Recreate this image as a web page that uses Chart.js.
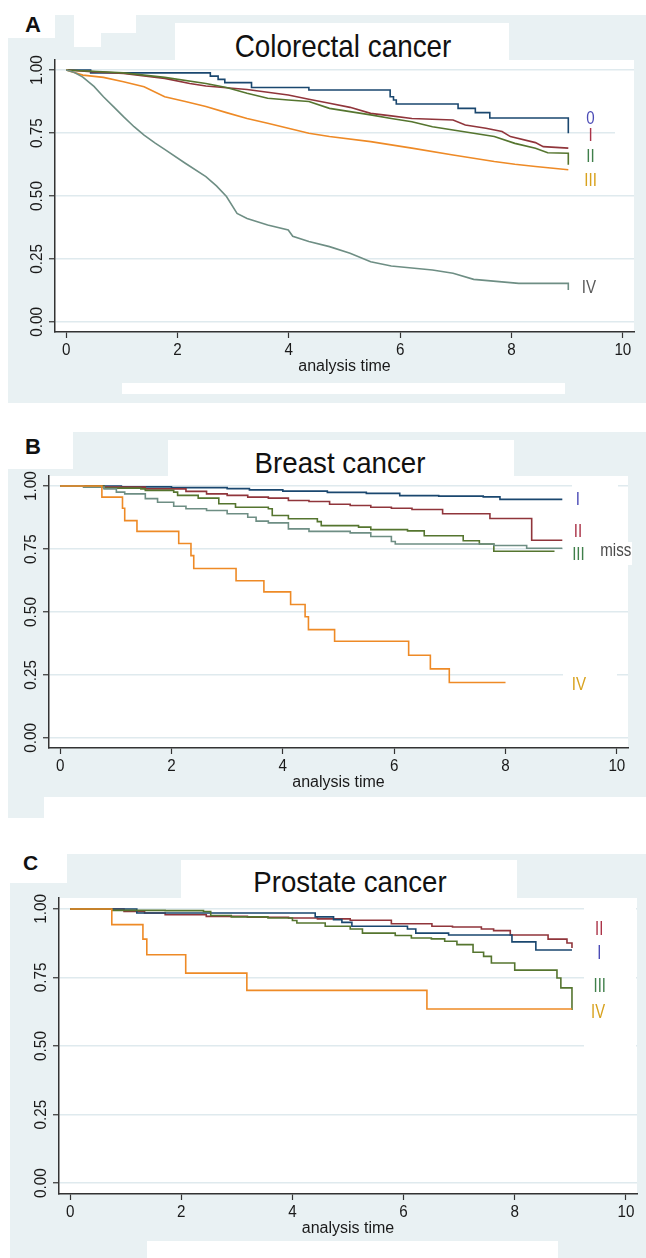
<!DOCTYPE html>
<html><head><meta charset="utf-8">
<script src="https://cdn.jsdelivr.net/npm/chart.js@4.4.1/dist/chart.umd.min.js"></script>
<style>
html,body{margin:0;padding:0;background:#fff;}
#page{position:relative;width:646px;height:1258px;overflow:hidden;background:#fff;font-family:"Liberation Sans",Arial,sans-serif;}
.g{position:absolute;background:#e9f1f3;}
.w{position:absolute;background:#fff;}
.lab{position:absolute;font-weight:bold;font-size:22px;line-height:22px;color:#111;}
.ttl{position:absolute;white-space:nowrap;color:#111;text-align:center;width:400px;}
canvas{position:absolute;left:0;}
</style></head>
<body><div id="page">
<!-- panel A -->
<div class="g" style="left:8px;top:15px;width:638px;height:388px"></div>
<div class="w" style="left:0;top:0;width:55px;height:38px"></div>
<div class="w" style="left:74px;top:15px;width:27px;height:32px"></div>
<div class="w" style="left:101px;top:15px;width:35px;height:18px"></div>
<div class="w" style="left:175px;top:23px;width:334px;height:37px"></div>
<div class="w" style="left:122px;top:383px;width:443px;height:11px"></div>
<div class="lab" style="left:25px;top:14px">A</div>
<div class="ttl" style="left:143px;top:30px;font-size:32px;line-height:32px;transform:scaleX(0.87)">Colorectal cancer</div>
<!-- panel B -->
<div class="g" style="left:73px;top:432px;width:573px;height:365px"></div>
<div class="g" style="left:8px;top:469px;width:65px;height:328px"></div>
<div class="g" style="left:8px;top:797px;width:36px;height:21px"></div>
<div class="w" style="left:168px;top:440px;width:346px;height:36px"></div>
<div class="lab" style="left:25px;top:436px">B</div>
<div class="ttl" style="left:140px;top:449px;font-size:29px;line-height:29px;transform:scaleX(0.955)">Breast cancer</div>
<!-- panel C -->
<div class="g" style="left:67px;top:854px;width:579px;height:404px"></div>
<div class="g" style="left:10px;top:883px;width:57px;height:375px"></div>
<div class="w" style="left:181px;top:860px;width:336px;height:38px"></div>
<div class="w" style="left:147px;top:1241px;width:411px;height:17px"></div>
<div class="lab" style="left:23px;top:852px;font-size:21px;line-height:21px">C</div>
<div class="ttl" style="left:150px;top:868px;font-size:29px;line-height:29px;transform:scaleX(0.952)">Prostate cancer</div>

<canvas id="cA" width="646" height="400" style="top:0;width:646px;height:400px"></canvas>
<canvas id="cB" width="646" height="420" style="top:400px;width:646px;height:420px"></canvas>
<canvas id="cC" width="646" height="428" style="top:830px;width:646px;height:428px"></canvas>
</div>
<script>
// ---------- data ----------
const xTicks = [0, 2, 4, 6, 8, 10];
const yTicks = [0, 0.25, 0.5, 0.75, 1];
const xTitle = 'analysis time';

// Colorectal cancer
const crc0T = [0, 0.44, 2.59, 2.73, 2.85, 3.33, 4.36, 5.82, 5.88, 5.93, 7.04, 7.35, 7.61, 9.02];
const crc0S = [1, 0.989, 0.976, 0.963, 0.95, 0.931, 0.921, 0.894, 0.881, 0.865, 0.848, 0.831, 0.81, 0.749];
const crcIT = [0, 0.52, 1.03, 1.77, 2.22, 2.51, 3.25, 3.99, 4.36, 4.73, 5.10, 5.47, 5.84, 6.21, 6.95, 7.17, 7.54, 7.83, 7.98, 8.43, 8.57, 9.02];
const crcIS = [1, 0.993, 0.987, 0.967, 0.947, 0.937, 0.923, 0.901, 0.884, 0.868, 0.852, 0.828, 0.818, 0.808, 0.802, 0.782, 0.769, 0.756, 0.736, 0.712, 0.696, 0.69];
const crcIIT = [0, 1.03, 1.77, 2.51, 2.88, 3.25, 3.62, 3.99, 4.36, 4.73, 5.10, 5.47, 5.84, 6.21, 6.58, 6.95, 7.32, 7.69, 8.06, 8.43, 8.65, 9.02, 9.02];
const crcIIS = [1, 0.989, 0.971, 0.947, 0.931, 0.908, 0.888, 0.881, 0.875, 0.848, 0.835, 0.822, 0.808, 0.795, 0.775, 0.762, 0.749, 0.736, 0.709, 0.69, 0.672, 0.67, 0.624];
const crcIIIT = [0, 0.30, 0.67, 1.03, 1.40, 1.77, 2.14, 2.51, 2.88, 3.25, 3.62, 3.99, 4.36, 4.73, 5.47, 6.21, 6.95, 7.69, 8.06, 8.43, 9.02];
const crcIIIS = [1, 0.98, 0.971, 0.954, 0.934, 0.894, 0.875, 0.855, 0.831, 0.808, 0.789, 0.769, 0.749, 0.736, 0.716, 0.69, 0.663, 0.637, 0.626, 0.617, 0.604];
const crcIVT = [0, 0.15, 0.30, 0.50, 0.67, 0.85, 1.03, 1.22, 1.40, 1.60, 1.77, 2.14, 2.51, 2.70, 2.88, 3.07, 3.25, 3.62, 3.99, 4.07, 4.36, 4.73, 5.10, 5.47, 5.84, 6.58, 6.95, 7.32, 8.13, 9.02, 9.02];
const crcIVS = [1, 0.99, 0.972, 0.935, 0.894, 0.855, 0.815, 0.775, 0.742, 0.71, 0.685, 0.63, 0.577, 0.54, 0.498, 0.431, 0.411, 0.385, 0.365, 0.34, 0.319, 0.299, 0.273, 0.239, 0.222, 0.206, 0.193, 0.169, 0.153, 0.153, 0.127];

// Breast cancer
const brIT = [0, 1.1, 2.0, 3.0, 3.4, 4.0, 4.8, 5.5, 6.1, 6.8, 7.6, 7.9, 9.02];
const brIS = [1, 0.997, 0.994, 0.99, 0.985, 0.98, 0.975, 0.971, 0.962, 0.96, 0.957, 0.947, 0.947];
const brIIT = [0, 0.79, 1.53, 2.26, 2.63, 3.0, 3.37, 3.74, 4.1, 4.47, 4.84, 5.21, 5.58, 5.95, 6.32, 6.87, 7.72, 8.47, 9.02];
const brIIS = [1, 0.996, 0.989, 0.979, 0.969, 0.963, 0.956, 0.952, 0.943, 0.939, 0.928, 0.923, 0.916, 0.912, 0.907, 0.89, 0.871, 0.785, 0.785];
const brIIIT = [0, 0.79, 1.45, 1.53, 2.04, 2.11, 2.48, 2.85, 3.15, 3.74, 3.81, 4.1, 4.62, 4.69, 5.36, 5.58, 6.24, 6.54, 7.24, 7.53, 7.79, 8.88];
const brIIIS = [1, 0.992, 0.989, 0.983, 0.976, 0.963, 0.952, 0.93, 0.916, 0.91, 0.883, 0.87, 0.859, 0.843, 0.837, 0.827, 0.822, 0.803, 0.783, 0.77, 0.741, 0.741];
const brMissT = [0, 0.42, 0.79, 1.01, 1.16, 1.53, 1.75, 2.04, 2.26, 2.63, 3.0, 3.37, 3.52, 3.74, 4.1, 4.47, 5.21, 5.58, 5.95, 6.02, 7.79, 8.38, 9.02];
const brMissS = [1, 0.996, 0.989, 0.976, 0.969, 0.95, 0.936, 0.92, 0.91, 0.903, 0.89, 0.876, 0.861, 0.854, 0.83, 0.82, 0.814, 0.8, 0.78, 0.77, 0.764, 0.753, 0.753];
const brIVT = [0, 0.75, 1.12, 1.16, 1.38, 2.13, 2.35, 2.4, 3.16, 3.66, 4.14, 4.4, 4.46, 4.93, 6.26, 6.65, 6.99, 8.0];
const brIVS = [1, 0.956, 0.912, 0.863, 0.82, 0.772, 0.724, 0.673, 0.624, 0.58, 0.53, 0.481, 0.43, 0.384, 0.328, 0.274, 0.22, 0.22];

// Prostate cancer
const prIT = [0, 1.2, 4.41, 4.74, 4.89, 5.07, 6.07, 6.22, 6.81, 7.95, 8.38, 9.03];
const prIS = [1, 0.985, 0.971, 0.961, 0.951, 0.937, 0.927, 0.912, 0.905, 0.88, 0.85, 0.85];
const prIIT = [0, 0.97, 1.34, 1.71, 2.45, 3.19, 3.93, 4.45, 5.04, 5.78, 6.51, 6.88, 7.4, 7.62, 7.92, 8.6, 8.94, 9.03];
const prIIS = [1, 0.991, 0.985, 0.979, 0.973, 0.97, 0.967, 0.964, 0.959, 0.946, 0.937, 0.934, 0.927, 0.921, 0.905, 0.89, 0.876, 0.858];
const prIIIT = [0, 0.75, 1.71, 2.4, 2.53, 2.9, 3.56, 4.0, 4.08, 4.59, 5.04, 5.26, 5.85, 6.14, 6.5, 6.74, 6.96, 7.25, 7.44, 7.58, 8.0, 8.76, 8.83, 9.03];
const prIIIS = [1, 0.995, 0.994, 0.991, 0.976, 0.971, 0.967, 0.958, 0.949, 0.937, 0.927, 0.912, 0.903, 0.894, 0.891, 0.882, 0.87, 0.842, 0.827, 0.803, 0.777, 0.748, 0.712, 0.631];
const prIVT = [0, 0.75, 1.31, 1.38, 2.08, 3.18, 6.42, 9.03];
const prIVS = [1, 0.943, 0.89, 0.833, 0.766, 0.703, 0.635, 0.635];

// ---------- styles ----------
const NAVY = '#1a476f', MAROON = '#90353b', GREEN = '#55752f', ORANGE = '#ee8a26', TEAL = '#6e8e84';
const LBLUE = '#4c4cb6', LRED = '#ab3348', LGREEN = '#3f7f4a', LGOLD = '#d8a21e', LGRAY = '#5a5a5a';
const FONT = '"Liberation Sans", Arial, sans-serif';
const TL = 6;

function series(T, S, color, stepped) {
  return {
    data: T.map((t, i) => ({x: t, y: S[i]})),
    borderColor: color, borderWidth: 1.6, pointRadius: 0, fill: false,
    stepped: stepped ? 'before' : false, tension: 0
  };
}

const stataPlugin = {
  id: 'stata',
  beforeDraw(chart) {
    const {ctx, chartArea: a} = chart;
    ctx.save();
    ctx.fillStyle = '#fff';
    ctx.fillRect(a.left, a.top, a.right - a.left, a.bottom - a.top);
    ctx.restore();
  },
  beforeDatasetsDraw(chart, args, opts) {
    const ctx = chart.ctx;
    ctx.save();
    ctx.fillStyle = '#fff';
    (opts.masks || []).forEach(m => ctx.fillRect(m[0], m[1] - opts.top, m[2] - m[0], m[3] - m[1]));
    ctx.restore();
  },
  afterDraw(chart, args, opts) {
    const {ctx, chartArea: a, scales: {x, y}} = chart;
    ctx.save();
    ctx.fillStyle = '#1a1a1a';
    ctx.textAlign = 'center';
    ctx.textBaseline = 'middle';
    ctx.font = '17px ' + FONT;
    yTicks.forEach(v => {
      ctx.save();
      ctx.translate(a.left - 18, y.getPixelForValue(v));
      ctx.rotate(-Math.PI / 2);
      ctx.scale(0.9, 1);
      ctx.fillText(v.toFixed(2), 0, 0);
      ctx.restore();
    });
    ctx.font = '16px ' + FONT;
    xTicks.forEach(v => {
      ctx.save();
      ctx.translate(x.getPixelForValue(v), a.bottom + 18.5);
      ctx.scale(0.95, 1);
      ctx.fillText(String(v), 0, 0);
      ctx.restore();
    });
    ctx.font = '16px ' + FONT;
    ctx.fillText(xTitle, (a.left + a.right) / 2, a.bottom + 35);
    (opts.labels || []).forEach(l => {
      ctx.save();
      ctx.fillStyle = l.c;
      ctx.font = (opts.lsize || 18) + 'px ' + FONT;
      ctx.translate(x.getPixelForValue(l.x), y.getPixelForValue(l.y));
      ctx.scale(opts.lscale || 0.84, 1);
      ctx.fillText(l.t, 0, 0);
      ctx.restore();
    });
    ctx.restore();
  }
};

function makePanel(id, top, height, area, datasets, stataOpts) {
  stataOpts.top = top;
  new Chart(document.getElementById(id), {
    type: 'line',
    data: {datasets},
    options: {
      responsive: false, animation: false, events: [],
      layout: {padding: {left: area.left - TL, top: area.top - top, right: 646 - area.right, bottom: top + height - area.bottom - TL}},
      plugins: {legend: {display: false}, tooltip: {enabled: false}, title: {display: false}, stata: stataOpts},
      scales: {
        x: {
          type: 'linear', min: -0.2, max: 10.2,
          afterBuildTicks: ax => { ax.ticks = xTicks.map(v => ({value: v})); },
          ticks: {display: false},
          grid: {drawOnChartArea: false, drawTicks: true, tickLength: TL, tickColor: '#333', tickWidth: 1.2},
          border: {color: '#333', width: 1.5}
        },
        y: {
          type: 'linear', min: -0.04, max: 1.04,
          afterBuildTicks: ax => { ax.ticks = yTicks.map(v => ({value: v})); },
          ticks: {display: false},
          grid: {color: '#dfeaee', lineWidth: 1.5, drawTicks: true, tickLength: TL, tickColor: '#333', tickWidth: 1.2},
          border: {color: '#333', width: 1.5}
        }
      }
    },
    plugins: [stataPlugin]
  });
}

makePanel('cA', 0, 400, {left: 55, right: 634, top: 60, bottom: 332}, [
  series(crcIVT, crcIVS, TEAL, false),
  series(crcIIIT, crcIIIS, ORANGE, false),
  series(crcIIT, crcIIS, GREEN, false),
  series(crcIT, crcIS, MAROON, false),
  series(crc0T, crc0S, NAVY, true)
], {
  masks: [[615, 128, 634, 138]],
  labels: [
    {t: '0', x: 9.42, y: 0.807, c: LBLUE},
    {t: 'I', x: 9.42, y: 0.739, c: LRED},
    {t: 'II', x: 9.42, y: 0.653, c: LGREEN},
    {t: 'III', x: 9.42, y: 0.56, c: LGOLD},
    {t: 'IV', x: 9.39, y: 0.134, c: LGRAY}
  ]
});

makePanel('cB', 400, 420, {left: 49, right: 628, top: 476, bottom: 748}, [
  series(brIVT, brIVS, ORANGE, true),
  series(brMissT, brMissS, TEAL, true),
  series(brIIIT, brIIIS, GREEN, true),
  series(brIIT, brIIS, MAROON, true),
  series(brIT, brIS, NAVY, true)
], {
  masks: [[572, 480, 618, 494], [563, 670, 617, 682], [563, 544, 597, 556], [597, 542, 632, 565]],
  labels: [
    {t: 'I', x: 9.30, y: 0.945, c: LBLUE},
    {t: 'II', x: 9.30, y: 0.819, c: LRED},
    {t: 'III', x: 9.31, y: 0.728, c: LGREEN},
    {t: 'miss', x: 9.98, y: 0.741, c: '#4a4a4a'},
    {t: 'IV', x: 9.32, y: 0.209, c: LGOLD}
  ]
});

makePanel('cC', 830, 428, {left: 59, right: 637, top: 898, bottom: 1194}, [
  series(prIVT, prIVS, ORANGE, true),
  series(prIIIT, prIIIS, GREEN, true),
  series(prIT, prIS, NAVY, true),
  series(prIIT, prIIS, MAROON, true)
], {
  masks: [[584, 899, 636, 1048]],
  lsize: 20, lscale: 0.74,
  labels: [
    {t: 'II', x: 9.52, y: 0.926, c: LRED},
    {t: 'I', x: 9.52, y: 0.836, c: LBLUE},
    {t: 'III', x: 9.53, y: 0.716, c: LGREEN},
    {t: 'IV', x: 9.50, y: 0.624, c: LGOLD}
  ]
});
</script>
</body></html>
